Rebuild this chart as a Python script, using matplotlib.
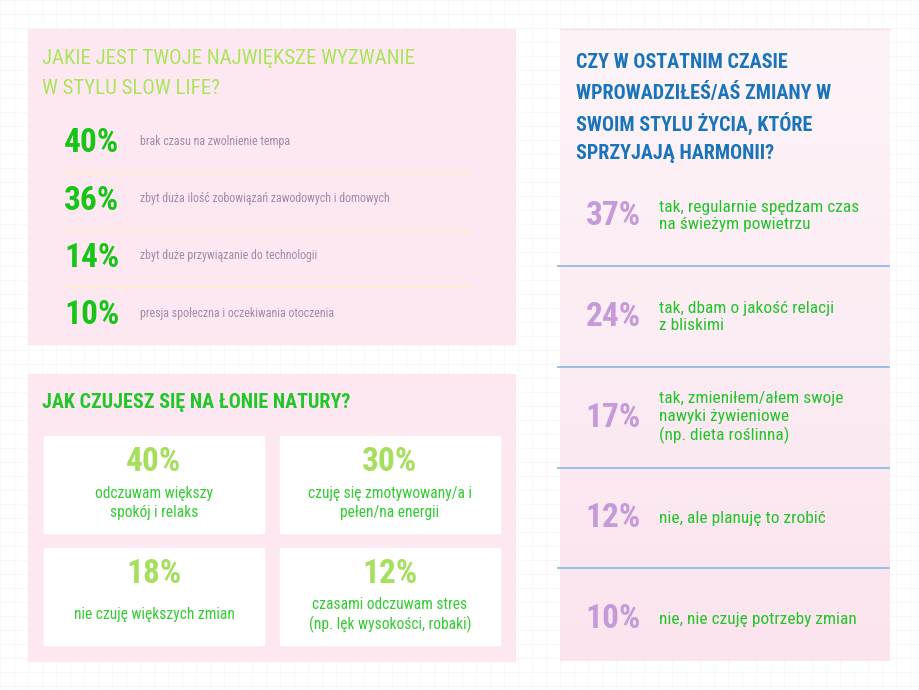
import matplotlib
matplotlib.use("Agg")
import matplotlib.pyplot as plt
from matplotlib.patches import Rectangle
import numpy as np

plt.rcParams["font.family"] = ["Roboto Condensed", "Liberation Sans Narrow", "DejaVu Sans"]

# --- data ---
q1_title = ["JAKIE JEST TWOJE NAJWIĘKSZE WYZWANIE", "W STYLU SLOW LIFE?"]
q1_values = ["40%", "36%", "14%", "10%"]
q1_labels = [
    "brak czasu na zwolnienie tempa",
    "zbyt duża ilość zobowiązań zawodowych i domowych",
    "zbyt duże przywiązanie do technologii",
    "presja społeczna i oczekiwania otoczenia",
]

q2_title = "JAK CZUJESZ SIĘ NA ŁONIE NATURY?"
q2_values = ["40%", "30%", "18%", "12%"]
q2_labels = [
    "odczuwam większy\nspokój i relaks",
    "czuję się zmotywowany/a i\npełen/na energii",
    "nie czuję większych zmian",
    "czasami odczuwam stres\n(np. lęk wysokości, robaki)",
]

q3_title = ["CZY W OSTATNIM CZASIE", "WPROWADZIŁEŚ/AŚ ZMIANY W",
            "SWOIM STYLU ŻYCIA, KTÓRE", "SPRZYJAJĄ HARMONII?"]
q3_values = ["37%", "24%", "17%", "12%", "10%"]
q3_labels = [
    "tak, regularnie spędzam czas\nna świeżym powietrzu",
    "tak, dbam o jakość relacji\nz bliskimi",
    "tak, zmieniłem/ałem swoje\nnawyki żywieniowe\n(np. dieta roślinna)",
    "nie, ale planuję to zrobić",
    "nie, nie czuję potrzeby zmian",
]

W, H = 920, 690
fig = plt.figure(figsize=(W / 100, H / 100), dpi=100)
ax = fig.add_axes([0, 0, 1, 1])
ax.set_xlim(0, W)
ax.set_ylim(H, 0)
ax.axis("off")

# faint background grid
for g in np.arange(0, W, 14):
    ax.axvline(g, color="#f7f7f7", lw=0.6, zorder=0)
for g in np.arange(0, H, 14):
    ax.axhline(g, color="#f7f7f7", lw=0.6, zorder=0)

PINK = "#fde8f1"

# panel 1
ax.add_patch(Rectangle((28, 29), 487, 315, color=PINK, zorder=1))
for i, line in enumerate(q1_title):
    ax.text(42, 58 + i * 31, line, color="#a8e55a", fontsize=15, va="center", zorder=3)
for i, (v, lab) in enumerate(zip(q1_values, q1_labels)):
    y = 143 + i * 57.5
    ax.text(92, y, v, color="#18c418", fontsize=24, fontweight="bold",
            ha="center", va="center", zorder=3)
    ax.text(140, y - 2, lab, color="#9f8aa8", fontsize=8.6, va="center", zorder=3)
    if i < 3:
        ax.plot([63, 472], [y + 29, y + 29], color="#f7f2c6", lw=1, zorder=2)

# panel 2
ax.add_patch(Rectangle((28, 374), 487, 287, color=PINK, zorder=1))
ax.text(42, 403, q2_title, color="#22c62a", fontsize=14.5, fontweight="bold",
        va="center", zorder=3)
boxes = [(44, 436), (280, 436), (44, 548), (280, 548)]
for (bx, by), v, lab in zip(boxes, q2_values, q2_labels):
    ax.add_patch(Rectangle((bx, by), 220, 97, color="white", zorder=2))
    cx = bx + 110
    ax.text(cx, by + 26, v, color="#a6de5e", fontsize=24, fontweight="bold",
            ha="center", va="center", zorder=3)
    ax.text(cx, by + 67, lab, color="#33cc33", fontsize=11.2, ha="center",
            va="center", linespacing=1.3, zorder=3)

# panel 3 with soft vertical gradient
grad = np.linspace(0, 1, 256)[:, None]
top = np.array([0xfd, 0xf4, 0xf8]) / 255
bot = np.array([0xfb, 0xe4, 0xee]) / 255
img = top + (bot - top) * grad[..., None]
ax.imshow(img, extent=(560, 890, 661, 29), aspect="auto", zorder=1)
ax.set_xlim(0, W)
ax.set_ylim(H, 0)
ax.plot([560, 890], [29, 29], color="#fbdce6", lw=1, zorder=2)
for i, line in enumerate(q3_title):
    ax.text(576, 62 + i * 30.5, line, color="#1a74ba", fontsize=14.5,
            fontweight="bold", va="center", zorder=3)
for i, (v, lab) in enumerate(zip(q3_values, q3_labels)):
    y = 216 + i * 100.8
    ax.text(613, y, v, color="#c59ad8", fontsize=24, fontweight="bold",
            ha="center", va="center", zorder=3)
    ax.text(659, y, lab, color="#22c42a", fontsize=12.5, va="center",
            linespacing=1.2, zorder=3)
    if i < 4:
        ax.plot([558, 889], [y + 50, y + 50], color="#8fbde3", lw=1.3, zorder=2)

fig.savefig("out.png", dpi=100)
